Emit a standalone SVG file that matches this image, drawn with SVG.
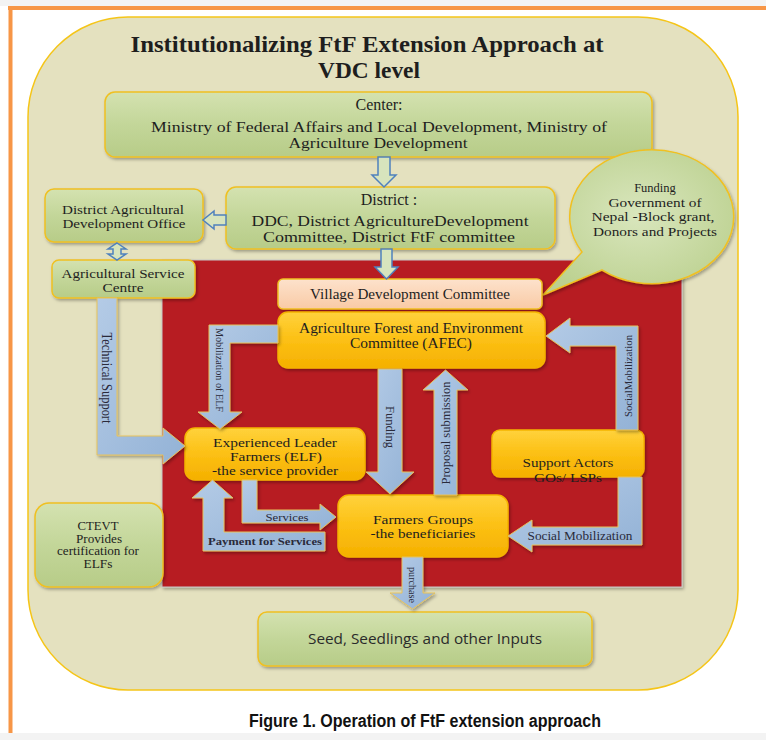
<svg xmlns="http://www.w3.org/2000/svg" width="766" height="740" viewBox="0 0 766 740">
<style>
.serif{font-family:"Liberation Serif","Times New Roman",serif;fill:#1e1e1e;text-anchor:middle}
.box{stroke:#f0c020;stroke-width:1.5}
.green{fill:url(#gGreen)}
.orange{fill:url(#gOrange);stroke:#f5b400}
.peach{fill:url(#gPeach)}
.blue{fill:url(#gBlue);stroke:#e6c25c;stroke-width:1}
.hollow{fill:#d7e4bd;stroke:#4f81bd;stroke-width:1.5}
.lbl{font-family:"Liberation Serif","Times New Roman",serif;fill:#2a2a3a;text-anchor:middle}
</style>
<defs>
<linearGradient id="gGreen" x1="0" y1="0" x2="0" y2="1">
<stop offset="0" stop-color="#d4e2b0"/><stop offset="0.5" stop-color="#c3d699"/><stop offset="1" stop-color="#b7cc88"/>
</linearGradient>
<linearGradient id="gOrange" x1="0" y1="0" x2="0" y2="1">
<stop offset="0" stop-color="#ffd23c"/><stop offset="0.5" stop-color="#fcc014"/><stop offset="1" stop-color="#f5b000"/>
</linearGradient>
<linearGradient id="gPeach" x1="0" y1="0" x2="0" y2="1">
<stop offset="0" stop-color="#fde2cc"/><stop offset="1" stop-color="#f9caa5"/>
</linearGradient>
<linearGradient id="gBlue" x1="0" y1="0" x2="1" y2="1">
<stop offset="0" stop-color="#b4cbe6"/><stop offset="1" stop-color="#93b2d6"/>
</linearGradient>
<radialGradient id="gBubble" cx="0.5" cy="0.45" r="0.6">
<stop offset="0" stop-color="#d9e6bd"/><stop offset="1" stop-color="#bcd190"/>
</radialGradient>
<filter id="sh" x="-10%" y="-10%" width="130%" height="140%">
<feDropShadow dx="1.5" dy="2" stdDeviation="1.5" flood-color="#000" flood-opacity="0.3"/>
</filter>
</defs>

<!-- page frame -->
<rect x="0" y="0" width="766" height="740" fill="#ffffff"/>
<rect x="0" y="0" width="766" height="6" fill="#f3f3f3"/>
<rect x="0" y="733" width="766" height="7" fill="#f3f3f3"/>
<line x1="8" y1="8" x2="766" y2="8" stroke="#f79646" stroke-width="4"/>
<line x1="10.5" y1="6" x2="10.5" y2="733" stroke="#f79646" stroke-width="4"/>

<!-- outer beige container -->
<g id="container">
<rect x="28" y="17" width="710" height="673" rx="100" ry="100" fill="#e4e1bf" stroke="#f5c518" stroke-width="1.5"/>
<text class="serif" x="367" y="52" font-size="24" font-weight="bold" fill="#111" textLength="473" lengthAdjust="spacingAndGlyphs">Institutionalizing FtF Extension Approach at</text>
<text class="serif" x="369" y="78" font-size="24" font-weight="bold" fill="#111" textLength="102" lengthAdjust="spacingAndGlyphs">VDC level</text>
</g>

<!-- red VDC area -->
<g id="vdc-area">
<rect x="162" y="260" width="520" height="327" fill="#b71c22" stroke="#c8c8c8" stroke-width="1" filter="url(#sh)"/>
</g>

<g id="center">
<rect class="box green" x="105" y="92" width="547" height="65" rx="10" filter="url(#sh)"/>
<text class="serif" x="379" y="110" font-size="16">Center:</text>
<text class="serif" x="379" y="132" font-size="15" textLength="456" lengthAdjust="spacingAndGlyphs">Ministry of Federal Affairs and Local Development, Ministry of</text>
<text class="serif" x="378" y="148" font-size="15" textLength="179" lengthAdjust="spacingAndGlyphs">Agriculture Development</text>
</g>

<g id="district">
<rect class="box green" x="226" y="187" width="329" height="62" rx="10" filter="url(#sh)"/>
<text class="serif" x="389" y="205" font-size="16">District :</text>
<text class="serif" x="390" y="226" font-size="15.5" textLength="277" lengthAdjust="spacingAndGlyphs">DDC, District AgricultureDevelopment</text>
<text class="serif" x="389" y="242" font-size="15.5" textLength="252" lengthAdjust="spacingAndGlyphs">Committee,  District FtF committee</text>
</g>

<g id="dado">
<rect class="box green" x="45" y="189" width="158" height="53" rx="9" filter="url(#sh)"/>
<text class="serif" x="123" y="214" font-size="13" textLength="122" lengthAdjust="spacingAndGlyphs">District Agricultural</text>
<text class="serif" x="124" y="228" font-size="13" textLength="123" lengthAdjust="spacingAndGlyphs">Development Office</text>
</g>

<g id="asc">
<rect class="box green" x="52" y="260" width="143" height="38" rx="7" filter="url(#sh)"/>
<text class="serif" x="123" y="278" font-size="13" textLength="123" lengthAdjust="spacingAndGlyphs">Agricultural Service</text>
<text class="serif" x="123" y="292" font-size="13" textLength="41" lengthAdjust="spacingAndGlyphs">Centre</text>
</g>

<g id="funding-bubble">
<path d="M602,270 L543,295 L582,252 A82,67 0 1,1 602,270 Z" fill="url(#gBubble)" stroke="#f0c020" stroke-width="1.5" filter="url(#sh)"/>
<text class="serif" x="655" y="192" font-size="12.5">Funding</text>
<text class="serif" x="655" y="207" font-size="12.5" textLength="93" lengthAdjust="spacingAndGlyphs">Government of</text>
<text class="serif" x="653" y="221" font-size="12.5" textLength="123" lengthAdjust="spacingAndGlyphs">Nepal  -Block grant,</text>
<text class="serif" x="655" y="236" font-size="12.5" textLength="124" lengthAdjust="spacingAndGlyphs">Donors and Projects</text>
</g>

<g id="vdc">
<rect class="box peach" x="278" y="279" width="264" height="30" rx="5" filter="url(#sh)"/>
<text class="serif" x="410" y="299" font-size="14" textLength="200" lengthAdjust="spacingAndGlyphs">Village Development Committee</text>
</g>

<g id="afec">
<rect class="box orange" x="278" y="312" width="267" height="56" rx="10" filter="url(#sh)"/>
<text class="serif" x="411" y="333" font-size="14" textLength="224" lengthAdjust="spacingAndGlyphs">Agriculture Forest and Environment</text>
<text class="serif" x="411" y="348" font-size="14" textLength="122" lengthAdjust="spacingAndGlyphs">Committee (AFEC)</text>
</g>

<g id="elf">
<rect class="box orange" x="185" y="428" width="180" height="52" rx="10" filter="url(#sh)"/>
<text class="serif" x="275" y="447" font-size="13.5" textLength="124" lengthAdjust="spacingAndGlyphs">Experienced Leader</text>
<text class="serif" x="276" y="461" font-size="13.5" textLength="92" lengthAdjust="spacingAndGlyphs">Farmers (ELF)</text>
<text class="serif" x="275" y="475" font-size="13.5" textLength="126" lengthAdjust="spacingAndGlyphs">-the service provider</text>
</g>

<g id="support-actors">
<rect class="box orange" x="492" y="430" width="152" height="47" rx="8" filter="url(#sh)"/>
<text class="serif" x="568" y="467" font-size="13.5" textLength="91" lengthAdjust="spacingAndGlyphs">Support Actors</text>
<text class="serif" x="568" y="482" font-size="13.5" textLength="68" lengthAdjust="spacingAndGlyphs">GOs/ LSPs</text>
</g>

<g id="farmers-groups">
<rect class="box orange" x="338" y="495" width="170" height="62" rx="11" filter="url(#sh)"/>
<text class="serif" x="423" y="524" font-size="13.5" textLength="100" lengthAdjust="spacingAndGlyphs">Farmers Groups</text>
<text class="serif" x="423" y="538" font-size="13.5" textLength="105" lengthAdjust="spacingAndGlyphs">-the beneficiaries</text>
</g>

<g id="ctevt">
<rect class="box green" x="35" y="503" width="128" height="84" rx="14" filter="url(#sh)"/>
<text class="serif" x="98" y="530" font-size="11.5" textLength="41" lengthAdjust="spacingAndGlyphs">CTEVT</text>
<text class="serif" x="99" y="542.5" font-size="11.5" textLength="46" lengthAdjust="spacingAndGlyphs">Provides</text>
<text class="serif" x="98" y="555" font-size="11.5" textLength="82" lengthAdjust="spacingAndGlyphs">certification for</text>
<text class="serif" x="98" y="567.5" font-size="11.5" textLength="29" lengthAdjust="spacingAndGlyphs">ELFs</text>
</g>

<g id="inputs">
<rect class="box green" x="258" y="612" width="334" height="54" rx="9" filter="url(#sh)"/>
<text x="425" y="644" font-size="15" fill="#2a2a2a" text-anchor="middle" font-family="'Open Sans','Liberation Sans',sans-serif" textLength="234" lengthAdjust="spacingAndGlyphs">Seed, Seedlings and other Inputs</text>
</g>

<g id="connectors">
<!-- hollow arrows -->
<path class="hollow" d="M378,157 H390 V175 H396 L384,187 L372,175 H378 Z"/>
<path class="hollow" d="M381,249 H392 V267 H398 L386.5,279 L375,267 H381 Z"/>
<path class="hollow" d="M226,215 V225 H214 V229 L203,220 L214,211 V215 Z"/>
<path class="hollow" d="M117,243 L126,249 H121 V254 H126 L117,260 L108,254 H113 V249 H108 Z"/>
<!-- blue arrows -->
<path class="blue" d="M97,298 H117 V436 H163 V428 L185,446 L163,464 V455 H97 Z" filter="url(#sh)"/>
<path class="blue" d="M278,325 V343 H230 V412 H242 L220,429 L198,412 H209 V325 Z" filter="url(#sh)"/>
<path class="blue" d="M378,369 H402 V472 H414 L390,494 L366,472 H378 Z" filter="url(#sh)"/>
<path class="blue" d="M434,495 V390 H423 L445.5,370 L468,390 H457 V495 Z" filter="url(#sh)"/>
<path class="blue" d="M616,430 V346 H570 V353 L546,336 L570,318 V326 H638 V430 Z" filter="url(#sh)"/>
<path class="blue" d="M618,477 H642 V545 H532 V552 L508,536 L532,520 V527 H618 Z" filter="url(#sh)"/>
<path class="blue" d="M242,480 H257 V510 H320 V504 L336,517 L320,530 V523 H242 Z" filter="url(#sh)"/>
<path class="blue" d="M325,532 V551 H203 V498 H192 L212.5,480 L233,498 H224 V532 Z" filter="url(#sh)"/>
<path class="blue" d="M402,557 H423 V593 H435 L412.5,609 L390,593 H402 Z" filter="url(#sh)"/>
<!-- connector labels -->
<text class="lbl" font-size="14" transform="translate(107,378) rotate(90)" dy="5" textLength="91" lengthAdjust="spacingAndGlyphs">Technical Support</text>
<text class="lbl" font-size="10" transform="translate(219,370) rotate(90)" dy="3.5" textLength="84" lengthAdjust="spacingAndGlyphs">Mobilization of ELF</text>
<text class="lbl" font-size="13" transform="translate(390,427) rotate(90)" dy="4.5" textLength="42" lengthAdjust="spacingAndGlyphs">Funding</text>
<text class="lbl" font-size="12" transform="translate(446,433) rotate(-90)" dy="4" textLength="103" lengthAdjust="spacingAndGlyphs">Proposal submission</text>
<text class="lbl" font-size="11" transform="translate(628,376) rotate(-90)" dy="4" textLength="82" lengthAdjust="spacingAndGlyphs">SocialMobilization</text>
<text class="lbl" font-size="10" transform="translate(412,585) rotate(90)" dy="3.5" textLength="36" lengthAdjust="spacingAndGlyphs">purchase</text>
<text class="lbl" font-size="11" x="287" y="521" textLength="43" lengthAdjust="spacingAndGlyphs">Services</text>
<text class="lbl" font-size="11" font-weight="bold" x="265" y="545" textLength="114" lengthAdjust="spacingAndGlyphs">Payment for Services</text>
<text class="lbl" font-size="12" x="580" y="540" textLength="105" lengthAdjust="spacingAndGlyphs">Social Mobilization</text>
</g>

<g id="caption">
<text x="425" y="727" font-size="18" font-weight="bold" fill="#111" text-anchor="middle" font-family="'Liberation Sans',Arial,sans-serif" textLength="352" lengthAdjust="spacingAndGlyphs">Figure 1. Operation of FtF extension approach</text>
</g>
</svg>
